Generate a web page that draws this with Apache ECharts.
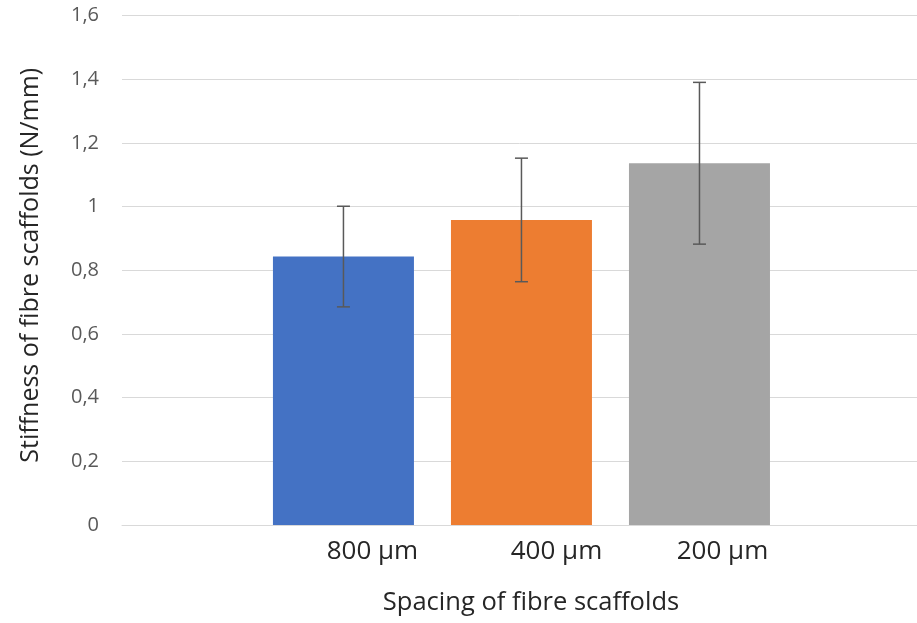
<!DOCTYPE html>
<html>
<head>
<meta charset="utf-8">
<script src="https://cdn.jsdelivr.net/npm/echarts@6/dist/echarts.min.js"></script>
<style>
  html, body { margin: 0; padding: 0; background: #fff; }
  #chart { width: 917px; height: 623px; }
</style>
</head>
<body>
<div id="chart"></div>
<script>
// Scaffold spacing groups and measured stiffness (N/mm)
const categories = ['800 µm', '400 µm', '200 µm'];
const stiffness = [0.843, 0.958, 1.136];
const stdDev = [0.158, 0.194, 0.254];
const barColors = ['#4472C4', '#ED7D31', '#A5A5A5'];
const yTicks = [0, 0.2, 0.4, 0.6, 0.8, 1, 1.2, 1.4, 1.6];

// Label nudges (px) so each category text sits where it belongs
const labelShift = [29, 35, 23];

const FONT = '"Open Sans", "Liberation Sans", sans-serif';

const barData = stiffness.map((v, i) => ({
  value: [i, v],
  itemStyle: { color: barColors[i] }
}));
const errData = stiffness.map((v, i) => [i, v - stdDev[i], v + stdDev[i]]);

const rich = {};
categories.forEach((c, i) => {
  rich['c' + i] = {
    fontFamily: FONT, fontSize: 26, lineHeight: 26, color: '#262626',
    padding: [0, 0, 0, labelShift[i] * 2]
  };
});

const chart = echarts.init(document.getElementById('chart'), null, { renderer: 'canvas' });
chart.setOption({
  animation: false,
  backgroundColor: '#ffffff',
  grid: { left: 122, right: 0, top: 15.5, bottom: 98, containLabel: false },
  xAxis: {
    type: 'value',
    min: -1.244,
    max: 3.222,
    splitLine: { show: false },
    axisTick: { show: false },
    axisLine: { show: true, lineStyle: { color: '#d9d9d9', width: 1 } },
    axisLabel: {
      customValues: [0, 1, 2],
      margin: 14,
      formatter: (v) => {
        const i = Math.round(v);
        return '{c' + i + '|' + categories[i] + '}';
      },
      rich: rich
    },
    name: 'Spacing of fibre scaffolds',
    nameLocation: 'middle',
    nameGap: 65,
    nameTextStyle: {
      fontFamily: FONT, fontSize: 25.5, lineHeight: 26, color: '#262626',
      padding: [0, 0, 0, 23]
    }
  },
  yAxis: {
    type: 'value',
    min: yTicks[0],
    max: yTicks[yTicks.length - 1],
    interval: 0.2,
    axisLine: { show: false },
    axisTick: { show: false },
    splitLine: { lineStyle: { color: '#d9d9d9', width: 1 } },
    axisLabel: {
      margin: 23,
      fontFamily: FONT,
      fontSize: 20,
      color: '#595959',
      formatter: (v) => String(+v.toFixed(1)).replace('.', ',')
    },
    name: 'Stiffness of fibre scaffolds (N/mm)',
    nameLocation: 'middle',
    nameGap: 78,
    nameTextStyle: {
      fontFamily: FONT, fontSize: 25, lineHeight: 26, color: '#262626',
      padding: [0, 0, 0, 10]
    }
  },
  series: [
    {
      type: 'bar',
      data: barData,
      barWidth: 141
    },
    {
      type: 'custom',
      data: errData,
      z: 10,
      renderItem: (params, api) => {
        const x = api.value(0);
        const lo = api.coord([x, api.value(1)]);
        const hi = api.coord([x, api.value(2)]);
        const cap = 6.5;
        const style = { stroke: '#595959', lineWidth: 1.5 };
        return {
          type: 'group',
          children: [
            { type: 'line', shape: { x1: lo[0], y1: lo[1], x2: hi[0], y2: hi[1] }, style },
            { type: 'line', shape: { x1: hi[0] - cap, y1: hi[1], x2: hi[0] + cap, y2: hi[1] }, style },
            { type: 'line', shape: { x1: lo[0] - cap, y1: lo[1], x2: lo[0] + cap, y2: lo[1] }, style }
          ]
        };
      }
    }
  ]
});
</script>
</body>
</html>
